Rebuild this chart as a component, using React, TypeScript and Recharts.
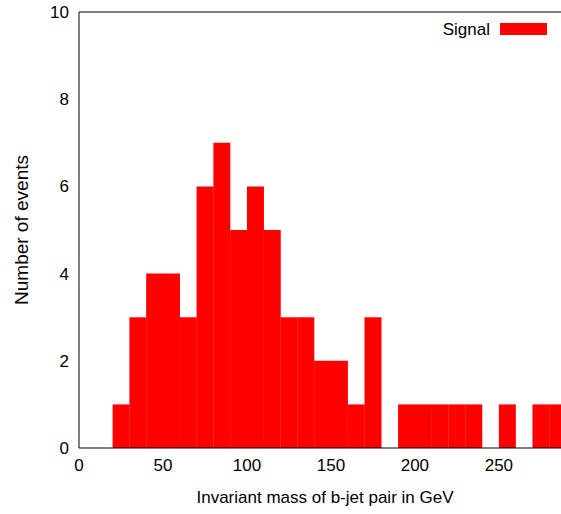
import { BarChart, Bar, XAxis, YAxis, Legend } from 'recharts';

// histogram bins (10 GeV wide), lower edges
const binStarts = [0, 10, 20, 30, 40, 50, 60, 70, 80, 90, 100, 110, 120, 130, 140, 150, 160, 170, 180, 190, 200, 210, 220, 230, 240, 250, 260, 270, 280];
const counts = [0, 0, 1, 3, 4, 4, 3, 6, 7, 5, 6, 5, 3, 3, 2, 2, 1, 3, 0, 1, 1, 1, 1, 1, 0, 1, 0, 1, 1];
const xTicks = [0, 50, 100, 150, 200, 250];
const yTicks = [0, 2, 4, 6, 8, 10];

const data = binStarts.map((b, i) => ({ mass: b + 5, count: counts[i] }));

const font = "'Liberation Sans', Arial, sans-serif";

function SignalLegend() {
    return (
        <svg width={561} height={50} style={{ display: 'block' }}>
            <text x={490} y={35} textAnchor="end" fontFamily={font} fontSize={17} fill="#000">Signal</text>
            <rect x={500} y={23} width={47} height={12} fill="#ff0000" />
        </svg>
    );
}

function YTitle({ viewBox }: any) {
    const cx = 21;
    const cy = viewBox.y + viewBox.height / 2;
    return (
        <text x={cx} y={cy} transform={`rotate(-90 ${cx} ${cy})`} textAnchor="middle" dominantBaseline="central"
            fontFamily={font} fontSize={19} fill="#000">
            Number of events
        </text>
    );
}

export default function App() {
    return (
        <div style={{ position: 'absolute', left: 0, top: 0, width: 561, height: 514, background: '#fff' }}>
            <BarChart width={561} height={514} data={data} margin={{ top: 12, right: 0, bottom: 6, left: 0 }}
                barCategoryGap={0} barGap={0}>
                <XAxis xAxisId="b" type="number" dataKey="mass" domain={[0, 287]} allowDataOverflow ticks={xTicks}
                    height={60} stroke="#000" tickLine={false} tickSize={0} tickMargin={11}
                    tick={{ fill: '#000', fontSize: 17, fontFamily: font }}
                    label={{ value: 'Invariant mass of b-jet pair in GeV', position: 'insideBottom', offset: 5, fill: '#000', fontSize: 17, fontFamily: font, dx: 5 }} />
                <XAxis xAxisId="t" orientation="top" mirror type="number" dataKey="mass" domain={[0, 287]} allowDataOverflow
                    ticks={xTicks} tick={false} tickSize={5} stroke="#000" />
                <YAxis yAxisId="l" type="number" domain={[0, 10]} ticks={yTicks} width={79} stroke="#000"
                    tickLine={false} tickSize={0} tickMargin={10}
                    tick={{ fill: '#000', fontSize: 17, fontFamily: font }}
                    label={{ content: YTitle }} />
                <YAxis yAxisId="m" mirror type="number" domain={[0, 10]} ticks={yTicks} axisLine={false}
                    tick={false} tickSize={5} stroke="#666" />
                <Legend verticalAlign="middle" align="center" layout="horizontal" content={() => <SignalLegend />}
                    wrapperStyle={{ position: 'absolute', top: 0, left: 0, width: 561 }} />
                <Bar xAxisId="b" yAxisId="l" dataKey="count" name="Signal" fill="#ff0000" isAnimationActive={false} />
            </BarChart>
        </div>
    );
}
